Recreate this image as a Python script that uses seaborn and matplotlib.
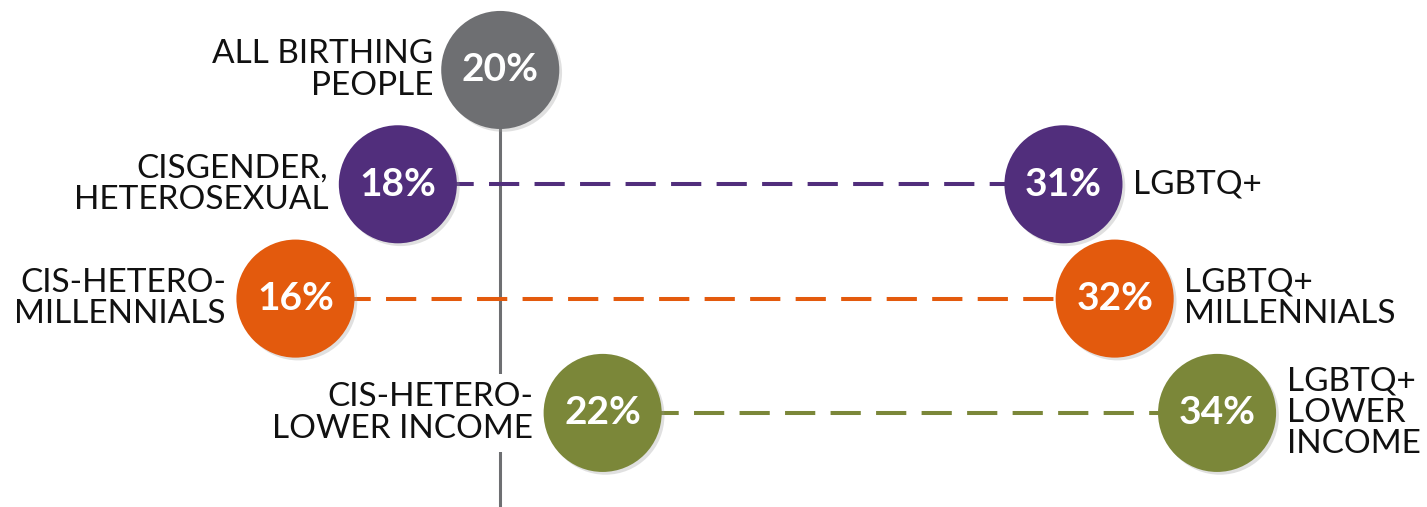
import pandas as pd
import seaborn as sns
import matplotlib.pyplot as plt
import matplotlib.patheffects as pe

# values
overall_label = "ALL BIRTHING\nPEOPLE"
overall_value = 20

left_labels = ["CISGENDER,\nHETEROSEXUAL", "CIS-HETERO-\nMILLENNIALS", "CIS-HETERO-\nLOWER INCOME"]
left_values = [18, 16, 22]
right_labels = ["LGBTQ+", "LGBTQ+\nMILLENNIALS", "LGBTQ+\nLOWER\nINCOME"]
right_values = [31, 32, 34]
row_colors = ["#512e7c", "#e35a0d", "#7b8739"]
overall_color = "#6e6f72"

sns.set_theme(style="white")
plt.rcParams['font.family'] = ['Lato', 'DejaVu Sans']

fig = plt.figure(figsize=(14.27, 5.07), dpi=100)
ax = fig.add_axes([0, 0, 1, 1])
ax.set_xlim(10.23, 38.1)
ax.set_ylim(3.823, -0.612)
ax.axis("off")

rows = list(range(1, len(left_values) + 1))

# vertical reference line at the overall value
ax.plot([overall_value, overall_value], [0, 3.83], color="#6e6f72", lw=2.2, zorder=1)

# dashed connectors
for r, lv, rv, c in zip(rows, left_values, right_values, row_colors):
    ax.plot([lv, rv], [r, r], color=c, lw=2.9, dashes=(7.5, 3.8), zorder=2)

# circles
df = pd.DataFrame({
    "value": [overall_value] + left_values + right_values,
    "row": [0] + rows + rows,
    "color": [overall_color] + row_colors + row_colors,
})
sns.scatterplot(data=df, x="value", y="row", c=df["color"], s=85 ** 2,
                linewidth=0, ax=ax, zorder=3, legend=False)
for coll in ax.collections:
    coll.set_path_effects([pe.SimplePatchShadow(offset=(2, -2), shadow_rgbFace="#999999", alpha=0.3),
                           pe.Normal()])

label_kw = dict(fontsize=24, color="#111111", va="center", linespacing=1.05,
                textcoords="offset points")
pct_kw = dict(fontsize=28, fontweight="bold", color="white", ha="center", va="center", zorder=4)

# overall circle
ax.text(overall_value, 0, f"{overall_value}%", **pct_kw)
ax.annotate(overall_label, (overall_value, 0), xytext=(-48, 0), ha="right", **label_kw)

for r, lv, rv, ll, rl in zip(rows, left_values, right_values, left_labels, right_labels):
    ax.text(lv, r, f"{lv}%", **pct_kw)
    ax.text(rv, r, f"{rv}%", **pct_kw)
    ax.annotate(ll, (lv, r), xytext=(-50, 0), ha="right", zorder=5,
                bbox=dict(facecolor="white", edgecolor="none", pad=6), **label_kw)
    ax.annotate(rl, (rv, r), xytext=(50, 0), ha="left", **label_kw)

plt.savefig("out.png", dpi=100)
